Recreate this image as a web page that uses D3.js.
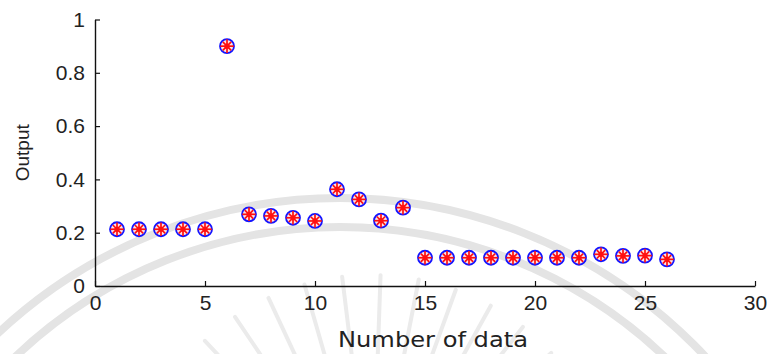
<!DOCTYPE html>
<html>
<head>
<meta charset="utf-8">
<script src="https://cdn.jsdelivr.net/npm/d3@7"></script>
<style>
  body { margin: 0; background: #fff; }
  svg { display: block; }
  .tick text { font-family: "Liberation Sans", Arial, sans-serif; fill: #222; }
</style>
</head>
<body>
<div id="chart"></div>
<script>
// data
var xValues = [1,2,3,4,5,6,7,8,9,10,11,12,13,14,15,16,17,18,19,20,21,22,23,24,25,26];
var outputValues = [0.213,0.213,0.213,0.213,0.213,0.900,0.269,0.263,0.256,0.244,0.363,0.325,0.245,0.294,
                    0.106,0.106,0.106,0.106,0.106,0.106,0.106,0.106,0.119,0.113,0.114,0.100];
var xTicks = [0,5,10,15,20,25,30];
var yTicks = [0,0.2,0.4,0.6,0.8,1];

var width = 768, height = 354;
var margin = {left: 95, right: 13, top: 19.5, bottom: 68};

var svg = d3.select("#chart").append("svg")
  .attr("width", width)
  .attr("height", height);

// faint watermark behind the plot
var wm = svg.append("g").attr("class", "watermark");
[500, 471].forEach(function(r){
  wm.append("circle")
    .attr("cx", 340).attr("cy", 698).attr("r", r)
    .style("fill", "none").style("stroke", "#e4e4e4").style("stroke-width", 8);
});
d3.range(200, 345, 9).forEach(function(a){
  var rad = a * Math.PI / 180;
  wm.append("line")
    .attr("x1", 372 + Math.cos(rad) * 150).attr("y1", 520 + Math.sin(rad) * 150)
    .attr("x2", 372 + Math.cos(rad) * 245).attr("y2", 520 + Math.sin(rad) * 245)
    .style("stroke", "#ebebeb").style("stroke-width", 4).style("stroke-linecap", "round");
});

var x = d3.scaleLinear().domain([0, 30]).range([margin.left, width - margin.right]);
var y = d3.scaleLinear().domain([0, 1]).range([height - margin.bottom, margin.top]);

var xAxis = svg.append("g")
  .attr("transform", "translate(0," + y(0) + ")")
  .call(d3.axisBottom(x).tickValues(xTicks).tickFormat(d3.format("~g"))
    .tickSizeInner(-5).tickSizeOuter(0).tickPadding(9));

var yAxis = svg.append("g")
  .attr("transform", "translate(" + x(0) + ",0)")
  .call(d3.axisLeft(y).tickValues(yTicks).tickFormat(d3.format("~g"))
    .tickSizeInner(-5).tickSizeOuter(0).tickPadding(10));

[xAxis, yAxis].forEach(function(ax){
  ax.select(".domain").style("stroke", "#111").style("stroke-width", 1.4);
  ax.selectAll(".tick line").style("stroke", "#111").style("stroke-width", 1.2);
  ax.selectAll(".tick text").style("font-size", "21px");
});

svg.append("text")
  .attr("transform", "translate(29," + y(0.5) + ") rotate(-90)")
  .attr("text-anchor", "middle")
  .attr("font-family", "Liberation Sans, Arial, sans-serif")
  .style("font-size", "19px")
  .style("fill", "#222")
  .text("Output");

svg.append("text")
  .attr("x", 433)
  .attr("y", 347)
  .attr("text-anchor", "middle")
  .attr("font-family", "DejaVu Sans, sans-serif")
  .style("font-size", "21px")
  .attr("textLength", 190)
  .attr("lengthAdjust", "spacingAndGlyphs")
  .style("fill", "#222")
  .text("Number of data");

var points = svg.append("g").selectAll("g")
  .data(xValues.map(function(d, i){ return {x: d, v: outputValues[i]}; }))
  .enter().append("g")
  .attr("transform", function(d){ return "translate(" + x(d.x) + "," + y(d.v) + ")"; });

// blue 'o' marker
points.append("circle")
  .attr("r", 7)
  .style("fill", "#fde6e6")
  .style("stroke", "#1414ff")
  .style("stroke-width", 1.8);

// red '*' marker
var s = 6.8, dg = s * 0.62;
[[-s,0,s,0],[0,-s,0,s],[-dg,-dg,dg,dg],[-dg,dg,dg,-dg]].forEach(function(l){
  points.append("line")
    .attr("x1", l[0]).attr("y1", l[1]).attr("x2", l[2]).attr("y2", l[3])
    .style("stroke", "#ff1010")
    .style("stroke-width", 1.7);
});
points.append("circle").attr("r", 2.6).style("fill", "#ff1010");
</script>
</body>
</html>
